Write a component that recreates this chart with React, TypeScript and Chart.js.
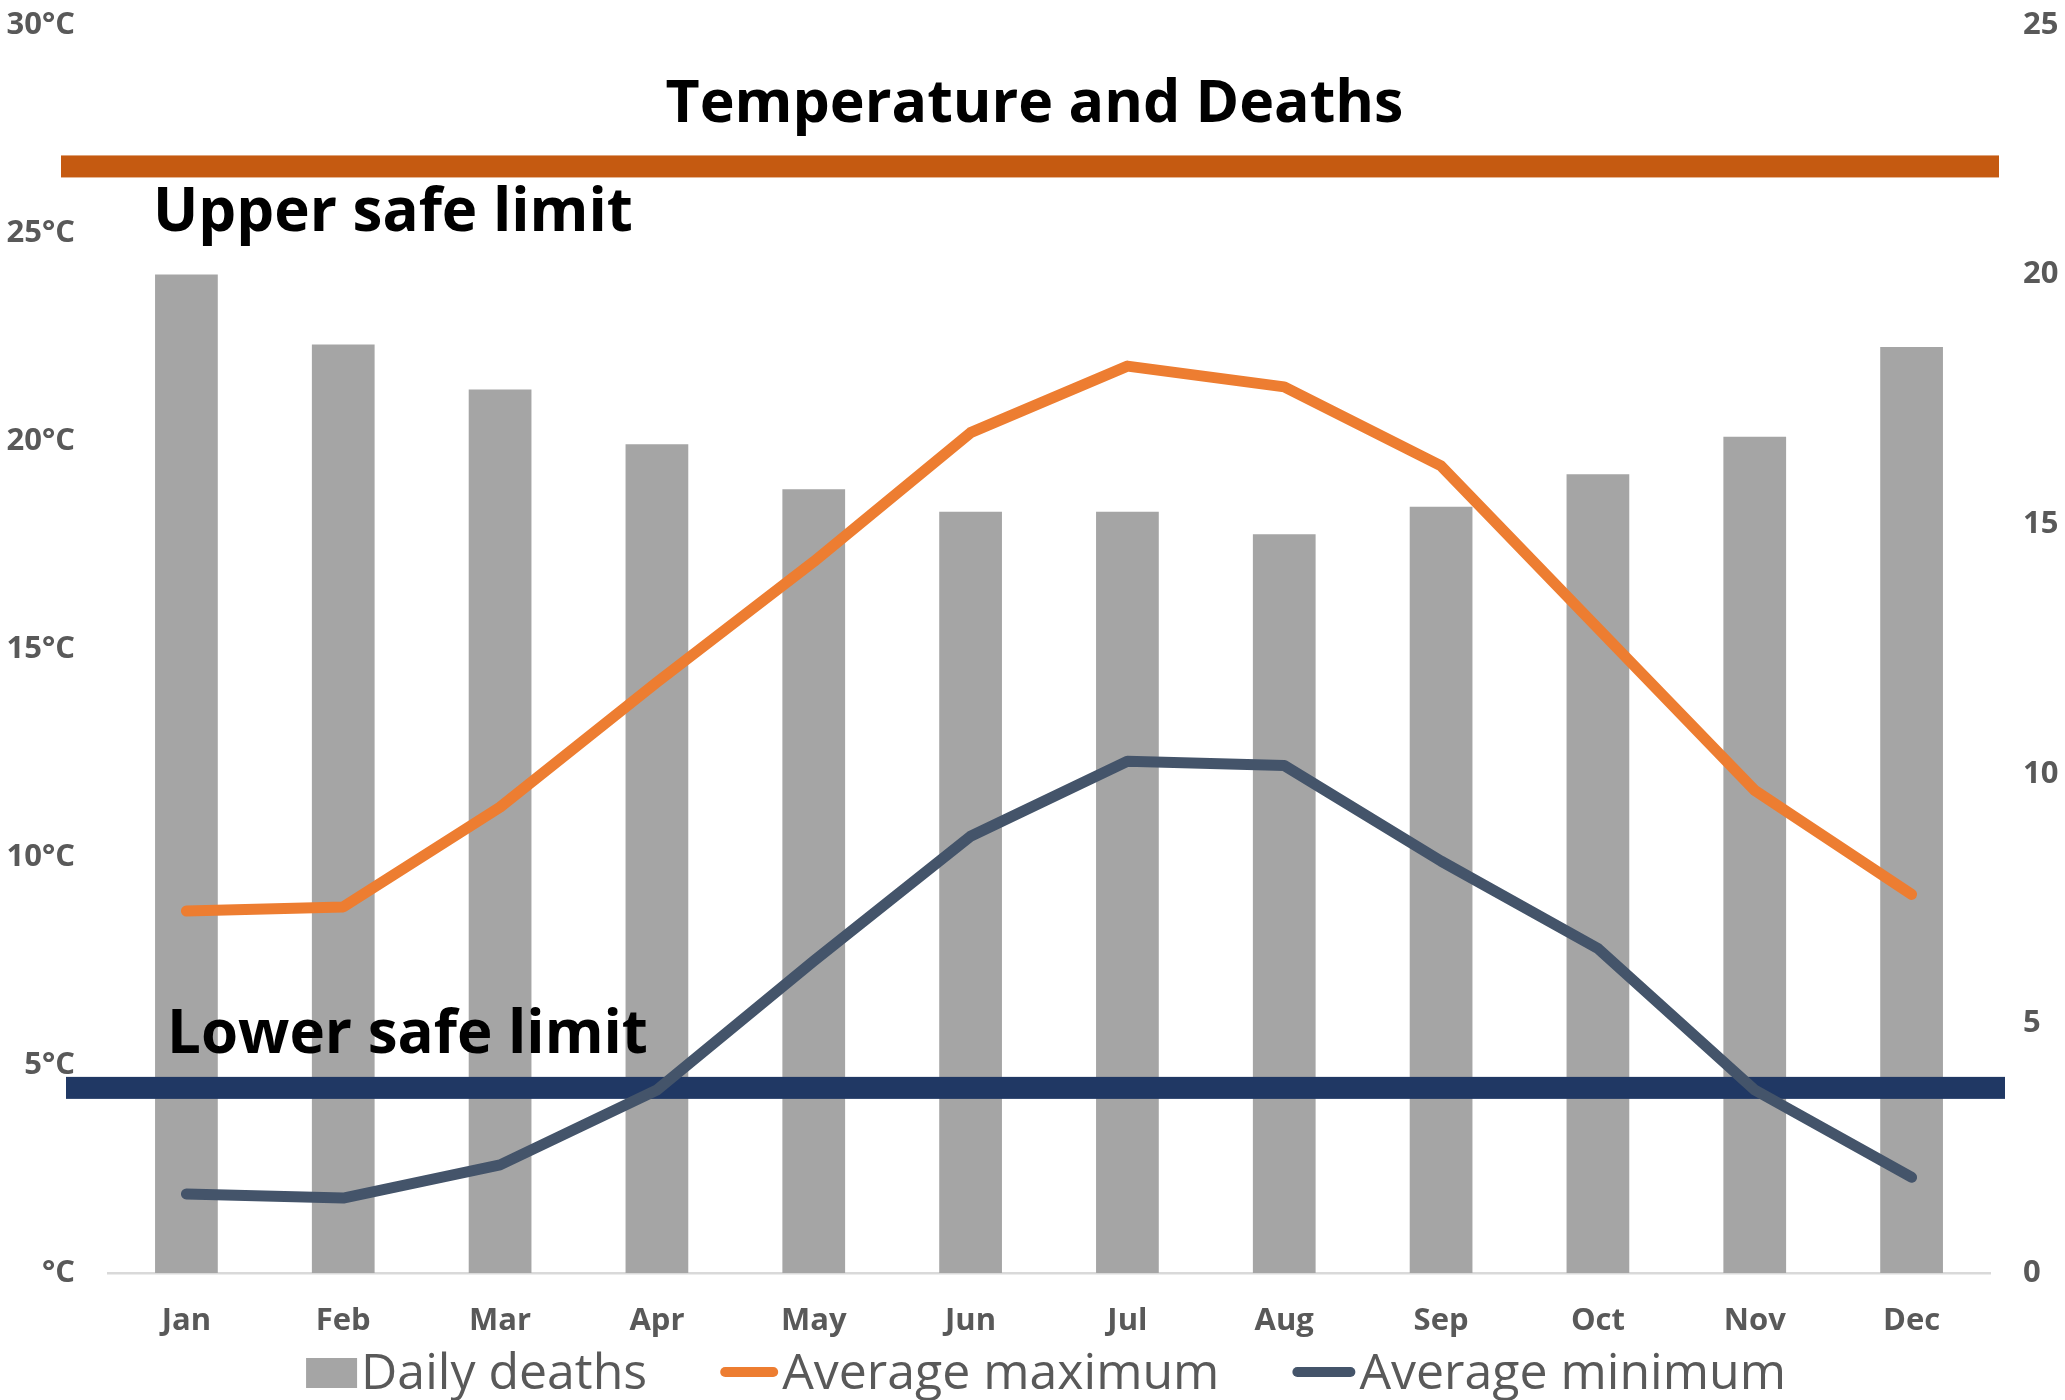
import React, { useEffect, useRef } from "react";
import { Chart, registerables } from "chart.js";

Chart.register(...registerables);

const months = ["Jan", "Feb", "Mar", "Apr", "May", "Jun", "Jul", "Aug", "Sep", "Oct", "Nov", "Dec"];
const dailyDeaths = [20.0, 18.6, 17.7, 16.6, 15.7, 15.25, 15.25, 14.8, 15.35, 16.0, 16.75, 18.55];
const averageMaximum = [8.7, 8.8, 11.2, 14.2, 17.1, 20.2, 21.8, 21.3, 19.4, 15.5, 11.6, 9.1];
const averageMinimum = [1.9, 1.8, 2.6, 4.4, 7.5, 10.5, 12.3, 12.2, 9.9, 7.8, 4.4, 2.3];
const seriesLabels = ["Daily deaths", "Average maximum", "Average minimum"];
const limitValues = [26.6, 4.45];
const limitLabels = ["Upper safe limit", "Lower safe limit"];
const limitColors = ["#C55A11", "#203864"];
const titleText = "Temperature and Deaths";

const FONT = "'Open Sans', 'DejaVu Sans', sans-serif";
const TICK_COLOR = "#595959";

const overlayPlugin = {
  id: "overlay",
  afterDatasetDraw(chart: any, args: any) {
    if (args.meta.type !== "bar") return;
    const ctx = chart.ctx;
    const area = chart.chartArea;
    const y = chart.scales.y;
    ctx.save();
    const yu = y.getPixelForValue(limitValues[0]);
    ctx.fillStyle = limitColors[0];
    ctx.fillRect(area.left - 47, yu - 11, area.right + 9 - (area.left - 47), 22);
    const yl = y.getPixelForValue(limitValues[1]);
    ctx.fillStyle = limitColors[1];
    ctx.fillRect(area.left - 42, yl - 11, area.right + 15 - (area.left - 42), 22);
    ctx.restore();
  },
  afterDraw(chart: any) {
    const ctx = chart.ctx;
    const area = chart.chartArea;
    const y = chart.scales.y;
    ctx.save();
    ctx.fillStyle = "#000000";
    ctx.font = `bold 60px ${FONT}`;
    ctx.textAlign = "left";
    ctx.textBaseline = "alphabetic";
    const yu = y.getPixelForValue(limitValues[0]);
    ctx.fillText(limitLabels[0], area.left + 45, yu + 65);
    const yl = y.getPixelForValue(limitValues[1]);
    ctx.fillText(limitLabels[1], area.left + 59, yl - 35);
    ctx.font = `bold 59px ${FONT}`;
    ctx.textAlign = "center";
    ctx.fillText(titleText, chart.width / 2 + 2, 122);

    ctx.font = `400 50px ${FONT}`;
    const ds = chart.data.datasets;
    const markerW = [51, 58, 63];
    const gap = 4;
    const itemGap = 73;
    const widths = ds.map((d: any, i: number) => markerW[i] + gap + ctx.measureText(d.label).width);
    const total = widths.reduce((a: number, b: number) => a + b, 0) + itemGap * (ds.length - 1);
    let x = (area.left + area.right) / 2 - 3 - total / 2;
    const baseY = 1389;
    ds.forEach((d: any, i: number) => {
      if (d.type === "bar") {
        ctx.fillStyle = d.backgroundColor;
        ctx.fillRect(x, 1358, markerW[i], 30);
      } else {
        ctx.strokeStyle = d.borderColor;
        ctx.lineWidth = 10;
        ctx.lineCap = "round";
        ctx.beginPath();
        ctx.moveTo(x + 5, 1372);
        ctx.lineTo(x + markerW[i] - 5, 1372);
        ctx.stroke();
      }
      ctx.fillStyle = TICK_COLOR;
      ctx.textAlign = "left";
      ctx.fillText(d.label, x + markerW[i] + gap, baseY);
      x += widths[i] + itemGap;
    });
    ctx.restore();
  },
};

const zeroPad = (s: any) => {
  s.paddingTop = 0;
  s.paddingBottom = 0;
  s.paddingLeft = 0;
  s.paddingRight = 0;
};

export default function App() {
  const ref = useRef<HTMLCanvasElement | null>(null);
  useEffect(() => {
    document.body.style.margin = "0";
    const canvas = ref.current!;
    const chart = new Chart(canvas, {
      type: "bar",
      data: {
        labels: months,
        datasets: [
          {
            type: "bar",
            label: seriesLabels[0],
            data: dailyDeaths,
            backgroundColor: "#A5A5A5",
            yAxisID: "y1",
            barPercentage: 0.4,
            categoryPercentage: 1,
            order: 3,
          },
          {
            type: "line",
            label: seriesLabels[1],
            data: averageMaximum,
            borderColor: "#ED7D31",
            backgroundColor: "#ED7D31",
            borderWidth: 11,
            pointRadius: 0,
            borderCapStyle: "round",
            borderJoinStyle: "round",
            tension: 0,
            yAxisID: "y",
            order: 1,
          },
          {
            type: "line",
            label: seriesLabels[2],
            data: averageMinimum,
            borderColor: "#44546A",
            backgroundColor: "#44546A",
            borderWidth: 11,
            pointRadius: 0,
            borderCapStyle: "round",
            borderJoinStyle: "round",
            tension: 0,
            yAxisID: "y",
            order: 2,
          },
        ] as any,
      },
      options: {
        animation: false,
        responsive: false,
        devicePixelRatio: 1,
        layout: { padding: { top: 25, left: 0, right: 0, bottom: 0 } },
        plugins: {
          legend: { display: false },
          title: { display: false },
          tooltip: { enabled: false },
        },
        scales: {
          x: {
            grid: { display: false, drawTicks: false },
            border: { display: true, color: "#D9D9D9", width: 2.5 },
            ticks: { color: TICK_COLOR, font: { family: FONT, size: 31, weight: "bold" }, padding: 30 },
            afterFit: (s: any) => { s.height = 127; zeroPad(s); },
          },
          y: {
            position: "left",
            min: 0,
            max: 30,
            grid: { display: false, drawTicks: false },
            border: { display: false },
            ticks: {
              stepSize: 5,
              color: TICK_COLOR,
              font: { family: FONT, size: 31, weight: "bold" },
              padding: 33,
              callback: (v: any) => (Number(v) === 0 ? "°C" : `${v}°C`),
            },
            afterFit: (s: any) => { s.width = 108; zeroPad(s); },
          },
          y1: {
            position: "right",
            min: 0,
            max: 25,
            grid: { display: false, drawTicks: false },
            border: { display: false },
            ticks: {
              stepSize: 5,
              color: TICK_COLOR,
              font: { family: FONT, size: 31, weight: "bold" },
              padding: 33,
            },
            afterFit: (s: any) => { s.width = 75; zeroPad(s); },
          },
        },
      } as any,
      plugins: [overlayPlugin],
    });
    return () => chart.destroy();
  }, []);
  return (
    <div style={{ position: "fixed", left: 0, top: 0, width: 2065, height: 1400, background: "#ffffff" }}>
      <canvas ref={ref} width={2065} height={1400} style={{ width: 2065, height: 1400, display: "block" }} />
    </div>
  );
}
